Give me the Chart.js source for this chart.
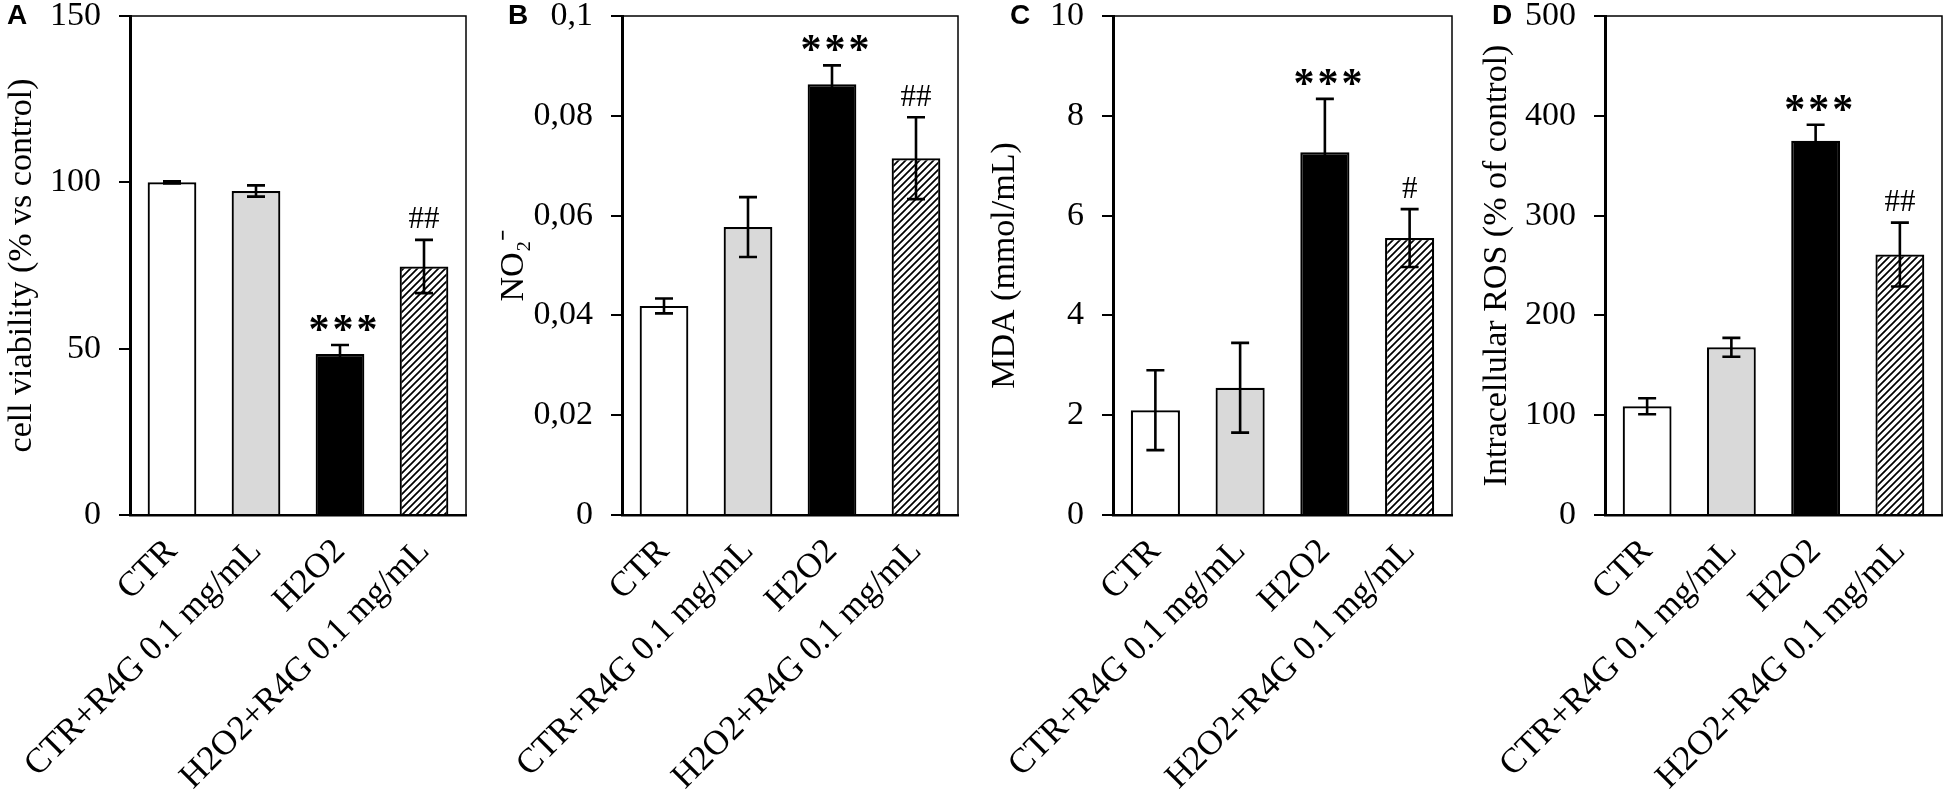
<!DOCTYPE html>
<html>
<head>
<meta charset="utf-8">
<script src="https://cdn.jsdelivr.net/npm/chart.js@4.4.1/dist/chart.umd.min.js"></script>
<style>
  body { margin: 0; background: #fff; width: 1950px; height: 800px; overflow: hidden; position: relative; }
  .panel { position: absolute; top: 0; height: 800px; }
  .letter { position: absolute; top: 1px; font: bold 28px 'Liberation Sans', Arial, sans-serif; line-height: 1; color: #000; }
</style>
</head>
<body>
<div class="panel" style="left:0;width:478px"><canvas id="chartA"></canvas></div>
<div class="panel" style="left:478px;width:490px"><canvas id="chartB"></canvas></div>
<div class="panel" style="left:968px;width:492px"><canvas id="chartC"></canvas></div>
<div class="panel" style="left:1460px;width:490px"><canvas id="chartD"></canvas></div>
<div class="letter" style="left:7px">A</div>
<div class="letter" style="left:508px">B</div>
<div class="letter" style="left:1010px">C</div>
<div class="letter" style="left:1492px">D</div>
<script>
// groups, same in every panel
const categories = ['CTR', 'CTR+R4G 0.1 mg/mL', 'H2O2', 'H2O2+R4G 0.1 mg/mL'];

// A - cell viability
const viability = [100, 97.4, 48.4, 74.7];
const viabilityErr = [0.3, 1.7, 2.7, 8];
const viabilityMarks = ['', '', '***', '##'];
const viabilityTicks = [0, 50, 100, 150];

// B - nitrite
const nitrite = [0.0419, 0.0577, 0.0863, 0.0715];
const nitriteErr = [0.0015, 0.006, 0.0038, 0.0082];
const nitriteMarks = ['', '', '***', '##'];
const nitriteTicks = [0, 0.02, 0.04, 0.06, 0.08, 0.1];

// C - MDA
const mda = [2.1, 2.55, 7.27, 5.55];
const mdaErr = [0.8, 0.9, 1.07, 0.58];
const mdaMarks = ['', '', '***', '#'];
const mdaTicks = [0, 2, 4, 6, 8, 10];

// D - intracellular ROS
const ros = [109, 168, 375, 261];
const rosErr = [8, 9.5, 16, 32];
const rosMarks = ['', '', '***', '##'];
const rosTicks = [0, 100, 200, 300, 400, 500];

Chart.defaults.font.family = "'Liberation Serif', 'Times New Roman', serif";
Chart.defaults.color = '#000';

// diagonal hatch for the last bar
function hatch() {
    const s = 7;
    const c = document.createElement('canvas');
    c.width = s; c.height = s;
    const g = c.getContext('2d');
    g.fillStyle = '#fff';
    g.fillRect(0, 0, s, s);
    g.strokeStyle = '#000';
    g.lineWidth = 1.7;
    g.beginPath();
    g.moveTo(-1, s + 1); g.lineTo(s + 1, -1);
    g.moveTo(-s / 2 - 1, s / 2 + 1); g.lineTo(s / 2 + 1, -s / 2 - 1);
    g.moveTo(s / 2 - 1, s * 1.5 + 1); g.lineTo(s * 1.5 + 1, s / 2 - 1);
    g.stroke();
    return g.createPattern(c, 'repeat');
}
const barColors = ['#ffffff', '#d9d9d9', '#000000', hatch()];

// frame, error bars and significance marks
const extras = {
    id: 'extras',
    afterDatasetsDraw(chart, args, opts) {
        const { ctx, chartArea } = chart;
        const y = chart.scales.y;
        const bars = chart.getDatasetMeta(0).data;
        const vals = chart.data.datasets[0].data;
        ctx.save();
        ctx.strokeStyle = '#000';
        ctx.lineWidth = 1.5;
        ctx.strokeRect(chartArea.left, chartArea.top, chartArea.right - chartArea.left, chartArea.bottom - chartArea.top);
        bars.forEach((bar, i) => {
            const top = y.getPixelForValue(vals[i] + opts.errors[i]);
            const bot = y.getPixelForValue(vals[i] - opts.errors[i]);
            ctx.lineWidth = 2.6;
            ctx.beginPath();
            ctx.moveTo(bar.x, top); ctx.lineTo(bar.x, bot);
            ctx.moveTo(bar.x - 9, top); ctx.lineTo(bar.x + 9, top);
            ctx.moveTo(bar.x - 9, bot); ctx.lineTo(bar.x + 9, bot);
            ctx.stroke();

            const mark = opts.marks[i];
            if (!mark) return;
            const cy = top - 22;
            ctx.fillStyle = '#000';
            ctx.textAlign = 'center';
            ctx.textBaseline = 'alphabetic';
            if (mark[0] === '*') {
                ctx.font = "bold 42px 'Liberation Serif'";
                const m = ctx.measureText('*');
                const base = cy + (m.actualBoundingBoxAscent - m.actualBoundingBoxDescent) / 2;
                for (let k = 0; k < mark.length; k++) {
                    ctx.fillText('*', bar.x + 3 + (k - (mark.length - 1) / 2) * 24, base);
                }
            } else {
                ctx.font = "31px 'Liberation Serif'";
                const m = ctx.measureText(mark);
                const base = cy + (m.actualBoundingBoxAscent - m.actualBoundingBoxDescent) / 2;
                ctx.fillText(mark, bar.x, base);
            }
        });
        ctx.restore();
    }
};

function makePanel(id, values, errors, marks, ticks, title, axisWidth, titlePad, padRight, fmt) {
    return new Chart(document.getElementById(id), {
        type: 'bar',
        data: {
            labels: categories,
            datasets: [{
                data: values,
                backgroundColor: barColors,
                borderColor: '#000',
                borderWidth: 2.2,
                borderSkipped: 'start',
                categoryPercentage: 1,
                barPercentage: 0.58
            }]
        },
        options: {
            responsive: true,
            maintainAspectRatio: false,
            animation: false,
            layout: { padding: { top: 16, right: padRight, left: 0, bottom: 0 } },
            plugins: {
                legend: { display: false },
                tooltip: { enabled: false },
                extras: { errors: errors, marks: marks }
            },
            scales: {
                x: {
                    grid: { display: false, drawTicks: false },
                    border: { display: true, color: '#000', width: 2.5 },
                    ticks: {
                        autoSkip: false,
                        minRotation: 45,
                        maxRotation: 45,
                        padding: 16,
                        font: { size: 35 }
                    },
                    afterFit: s => { s.height = 285; s.paddingLeft = 0; s.paddingRight = 0; }
                },
                y: {
                    min: ticks[0],
                    max: ticks[ticks.length - 1],
                    afterBuildTicks: s => { s.ticks = ticks.map(v => ({ value: v })); },
                    grid: { display: true, drawOnChartArea: false, drawTicks: true, tickLength: 11, color: '#000', lineWidth: 2 },
                    border: { display: true, color: '#000', width: 3 },
                    ticks: {
                        padding: 18,
                        font: { size: 34 },
                        callback: fmt || (v => String(v))
                    },
                    title: {
                        display: true,
                        text: title,
                        font: { size: 34 },
                        padding: { top: titlePad, bottom: 0 }
                    },
                    afterFit: s => { s.width = axisWidth; s.paddingTop = 0; s.paddingBottom = 0; }
                }
            }
        },
        plugins: [extras]
    });
}

const comma = v => String(+v.toFixed(2)).replace('.', ',');

makePanel('chartA', viability, viabilityErr, viabilityMarks, viabilityTicks, 'cell viability (% vs control)', 130, 2, 12);
makePanel('chartB', nitrite, nitriteErr, nitriteMarks, nitriteTicks, 'NO\u2082\u207B', 144, 16, 10, comma);
makePanel('chartC', mda, mdaErr, mdaMarks, mdaTicks, 'MDA (mmol/mL)', 145, 17, 8);
makePanel('chartD', ros, rosErr, rosMarks, rosTicks, 'Intracellular ROS (% of control)', 145, 17, 8);
</script>
</body>
</html>
